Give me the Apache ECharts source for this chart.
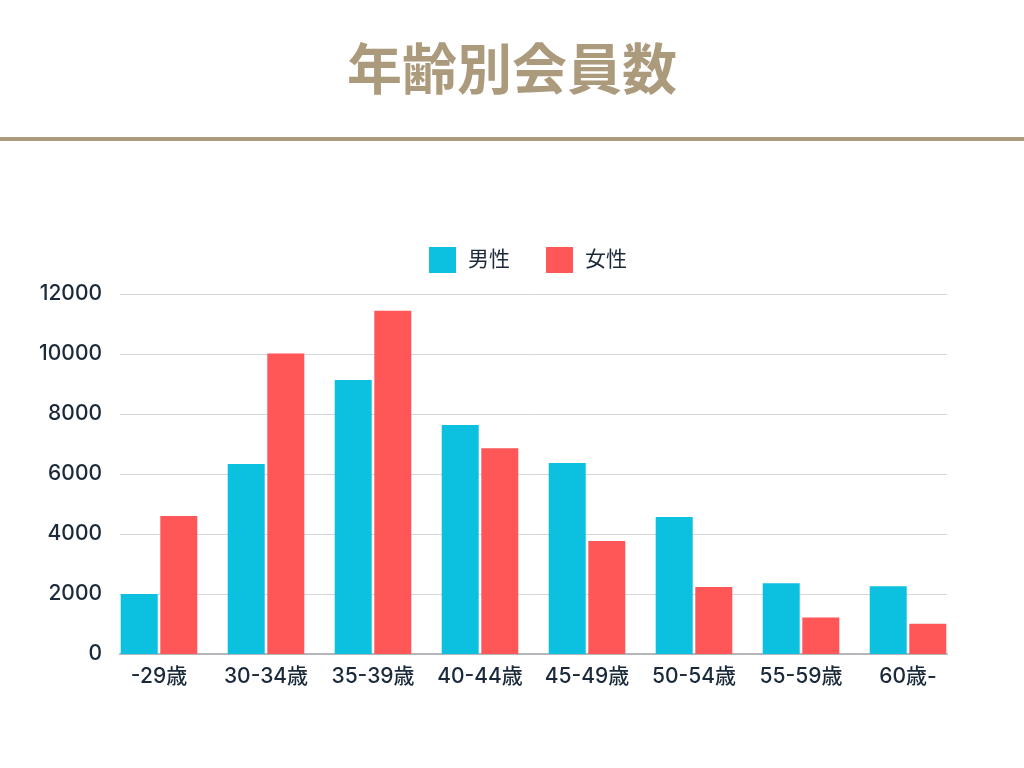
<!DOCTYPE html>
<html>
<head>
<meta charset="utf-8">
<script src="https://cdn.jsdelivr.net/npm/echarts@6/dist/echarts.min.js"></script>
<style>
html,body{margin:0;padding:0;background:#fff;}
#c{width:1024px;height:768px;}
</style>
</head>
<body>
<div id="c"></div>
<script>
const categories = ['-29歳', '30-34歳', '35-39歳', '40-44歳', '45-49歳', '50-54歳', '55-59歳', '60歳-'];
const maleValues = [2000, 6330, 9130, 7630, 6370, 4570, 2360, 2260];
const femaleValues = [4600, 10020, 11440, 6860, 3770, 2230, 1220, 1010];
const seriesNames = ['男性', '女性'];
const yTicks = { min: 0, max: 12000, interval: 2000 };

const fontFam = 'Inter, "Noto Sans CJK JP", sans-serif';
const textColor = '#1b2a3a';
const gold = '#ab9b7c';

const chart = echarts.init(document.getElementById('c'), null, { renderer: 'canvas' });
chart.setOption({
  backgroundColor: '#ffffff',
  animation: false,
  title: {
    text: '年齢別会員数',
    left: 'center',
    top: 41,
    padding: 0,
    textStyle: { fontFamily: '"Noto Sans CJK JP", sans-serif', fontSize: 55, fontWeight: 'bold', color: gold }
  },
  graphic: [{
    type: 'rect',
    shape: { x: 0, y: 137, width: 1024, height: 4 },
    style: { fill: gold },
    silent: true
  }],
  legend: {
    data: seriesNames,
    left: 429,
    top: 247,
    padding: 0,
    icon: 'rect',
    itemWidth: 27,
    itemHeight: 26,
    itemGap: 36,
    textStyle: { fontFamily: fontFam, fontSize: 21, color: textColor, padding: [0, 0, 0, 7] }
  },
  grid: [
    { left: 120, right: 77, top: 294, bottom: 114 },
    { left: 105.5, right: 62.5, top: 294, bottom: 114 }
  ],
  xAxis: [
    {
      type: 'category', gridIndex: 0, data: categories,
      axisLine: { show: true, lineStyle: { color: '#b3b7bc', width: 2 } },
      axisTick: { show: false }, axisLabel: { show: false }, splitLine: { show: false }
    },
    {
      type: 'category', gridIndex: 1, data: categories,
      axisLine: { show: false }, axisTick: { show: false },
      axisLabel: { interval: 0, hideOverlap: false, fontFamily: fontFam, fontSize: 21, fontWeight: 500, color: textColor, margin: 12 }
    }
  ],
  yAxis: [
    {
      type: 'value', gridIndex: 0, min: yTicks.min, max: yTicks.max, interval: yTicks.interval,
      axisLine: { show: false }, axisTick: { show: false },
      axisLabel: { fontFamily: fontFam, fontSize: 21, fontWeight: 500, color: textColor, margin: 18,
        formatter: function (v) { return String(v); } },
      splitLine: { show: true, lineStyle: { color: '#d3d7db', width: 1 } }
    },
    {
      type: 'value', gridIndex: 1, min: yTicks.min, max: yTicks.max, interval: yTicks.interval,
      show: false
    }
  ],
  series: [
    {
      name: seriesNames[0], type: 'bar', xAxisIndex: 1, yAxisIndex: 1,
      data: maleValues, barWidth: 37, barGap: '7%',
      itemStyle: { color: '#0cc0df' }
    },
    {
      name: seriesNames[1], type: 'bar', xAxisIndex: 1, yAxisIndex: 1,
      data: femaleValues, barWidth: 37, barGap: '7%',
      itemStyle: { color: '#ff5757' }
    }
  ]
});
</script>
</body>
</html>
